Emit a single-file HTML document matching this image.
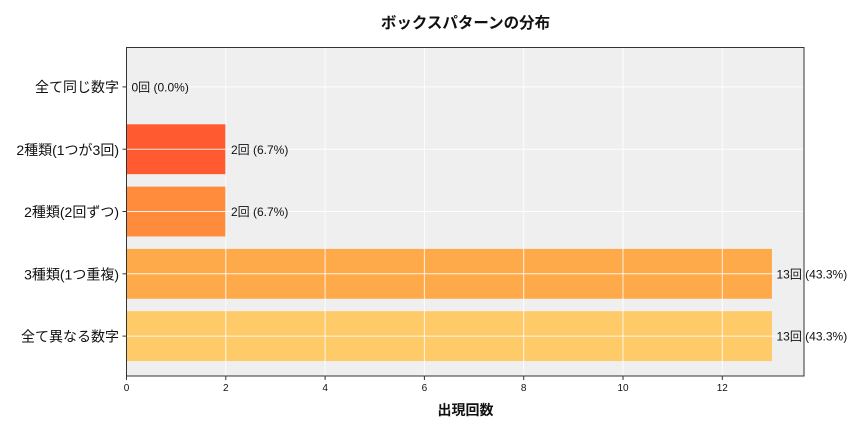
<!DOCTYPE html>
<html><head><meta charset="utf-8"><style>
html,body{margin:0;padding:0;background:#fff;}
svg{display:block;}
text{font-family:"Liberation Sans","Noto Sans CJK JP",sans-serif;fill:#111;}
</style></head><body>
<svg width="864" height="432" viewBox="0 0 864 432" xmlns="http://www.w3.org/2000/svg">
<rect x="0" y="0" width="864" height="432" fill="#fff"/>
<!-- plot bg -->
<rect x="126.5" y="47" width="677.5" height="329" fill="#efefef"/>
<!-- bars -->
<rect x="126.5" y="124.3" width="99.3" height="49.85" fill="#ff5a30"/>
<rect x="126.5" y="186.6" width="99.3" height="49.85" fill="#ff8c3c"/>
<rect x="126.5" y="248.9" width="645.45" height="49.85" fill="#ffaa4a"/>
<rect x="126.5" y="311.2" width="645.45" height="49.85" fill="#ffca68"/>
<!-- grid -->
<g stroke="#ffffff" stroke-width="1" stroke-opacity="0.85">
<line x1="126.5" y1="47" x2="126.5" y2="376"/>
<line x1="225.8" y1="47" x2="225.8" y2="376"/>
<line x1="325.1" y1="47" x2="325.1" y2="376"/>
<line x1="424.4" y1="47" x2="424.4" y2="376"/>
<line x1="523.7" y1="47" x2="523.7" y2="376"/>
<line x1="623" y1="47" x2="623" y2="376"/>
<line x1="722.3" y1="47" x2="722.3" y2="376"/>
<line x1="126.5" y1="86.9" x2="804" y2="86.9"/>
<line x1="126.5" y1="149.2" x2="804" y2="149.2"/>
<line x1="126.5" y1="211.5" x2="804" y2="211.5"/>
<line x1="126.5" y1="273.8" x2="804" y2="273.8"/>
<line x1="126.5" y1="336.1" x2="804" y2="336.1"/>
</g>
<!-- spines -->
<rect x="126.5" y="47.5" width="677.5" height="328.5" fill="none" stroke="#333" stroke-width="1"/>
<!-- ticks -->
<g stroke="#333" stroke-width="1">
<line x1="122.5" y1="86.9" x2="126.5" y2="86.9"/>
<line x1="122.5" y1="149.2" x2="126.5" y2="149.2"/>
<line x1="122.5" y1="211.5" x2="126.5" y2="211.5"/>
<line x1="122.5" y1="273.8" x2="126.5" y2="273.8"/>
<line x1="122.5" y1="336.1" x2="126.5" y2="336.1"/>
<line x1="126.5" y1="376" x2="126.5" y2="380"/>
<line x1="225.8" y1="376" x2="225.8" y2="380"/>
<line x1="325.1" y1="376" x2="325.1" y2="380"/>
<line x1="424.4" y1="376" x2="424.4" y2="380"/>
<line x1="523.7" y1="376" x2="523.7" y2="380"/>
<line x1="623" y1="376" x2="623" y2="380"/>
<line x1="722.3" y1="376" x2="722.3" y2="380"/>
</g>
<!-- y tick labels -->
<g font-size="14" text-anchor="end" dominant-baseline="central">
<text x="119" y="87">全て同じ数字</text>
<text x="119" y="150">2種類(1つが3回)</text>
<text x="119" y="212">2種類(2回ずつ)</text>
<text x="119" y="274.5">3種類(1つ重複)</text>
<text x="119" y="336.5">全て異なる数字</text>
</g>
<!-- x tick labels -->
<g font-size="10" text-anchor="middle">
<text x="126.5" y="391">0</text>
<text x="225.8" y="391">2</text>
<text x="325.1" y="391">4</text>
<text x="424.4" y="391">6</text>
<text x="523.7" y="391">8</text>
<text x="623" y="391">10</text>
<text x="722.3" y="391">12</text>
</g>
<!-- annotations -->
<g font-size="12" dominant-baseline="central">
<text x="131.5" y="87.5">0回 (0.0%)</text>
<text x="231" y="150">2回 (6.7%)</text>
<text x="231" y="212">2回 (6.7%)</text>
<text x="776.5" y="274.5">13回 (43.3%)</text>
<text x="776.5" y="336.5">13回 (43.3%)</text>
</g>
<!-- axis label & title -->
<text x="465.5" y="415" font-size="14" font-weight="bold" text-anchor="middle">出現回数</text>
<text x="465.5" y="28" font-size="15.5" font-weight="bold" text-anchor="middle">ボックスパターンの分布</text>
</svg>
</body></html>
